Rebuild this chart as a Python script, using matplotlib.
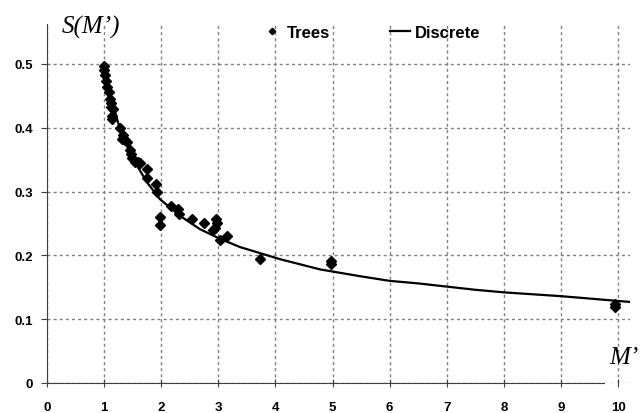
import matplotlib
matplotlib.use("Agg")
import matplotlib.pyplot as plt

# ── DATA ──────────────────────────────────────────────────────────────────────
tree_m = [1.00, 1.00, 1.02, 1.035, 1.06, 1.09, 1.10, 1.12, 1.13, 1.16, 1.15, 1.15,
          1.29, 1.34, 1.31, 1.37, 1.40, 1.45, 1.48, 1.50, 1.54, 1.60, 1.64,
          1.76, 1.75, 1.92, 1.93, 1.99, 1.99, 2.18, 2.30, 2.32, 2.55, 2.75,
          2.97, 2.98, 2.95, 2.91, 3.03, 3.16, 3.73, 4.98, 4.98, 9.95, 9.95]
tree_s = [0.497, 0.490, 0.482, 0.473, 0.463, 0.456, 0.445, 0.438, 0.433, 0.429, 0.419, 0.414,
          0.400, 0.388, 0.383, 0.381, 0.377, 0.365, 0.358, 0.352, 0.346, 0.347, 0.345,
          0.335, 0.321, 0.311, 0.300, 0.260, 0.247, 0.278, 0.272, 0.265, 0.257, 0.250,
          0.257, 0.251, 0.243, 0.239, 0.224, 0.230, 0.195, 0.191, 0.186, 0.124, 0.119]

disc_m = [1.00, 1.10, 1.28, 1.51, 1.75, 1.98, 2.33, 2.68, 3.03, 3.38, 4.08, 4.78,
          5.50, 6.00, 6.50, 7.00, 7.50, 8.00, 9.00, 10.20]
disc_s = [0.500, 0.455, 0.398, 0.351, 0.315, 0.288, 0.262, 0.241, 0.226, 0.213, 0.194, 0.178,
          0.167, 0.160, 0.156, 0.151, 0.146, 0.142, 0.136, 0.127]

x_ticks = list(range(0, 11))
y_ticks = [0, 0.1, 0.2, 0.3, 0.4, 0.5]
y_labels = ['0', '0.1', '0.2', '0.3', '0.4', '0.5']

# ── FIGURE ────────────────────────────────────────────────────────────────────
fig = plt.figure(figsize=(6.4, 4.14), dpi=100)
ax = fig.add_axes([0.073, 0.0725, 0.911, 0.8675])

ax.plot(disc_m, disc_s, color='black', linewidth=1.6, label='Discrete', zorder=3)
ax.plot(tree_m, tree_s, linestyle='none', marker='D', markersize=5.5,
        color='black', label='Trees', zorder=4)

ax.set_xlim(0, 10.2)
ax.set_ylim(0, 0.5627)

ax.set_xticks(x_ticks)
ax.set_yticks(y_ticks)
ax.set_yticklabels(y_labels)

for lab in ax.get_xticklabels() + ax.get_yticklabels():
    lab.set_fontfamily('Liberation Sans')
    lab.set_fontweight('bold')
    lab.set_fontsize(9.5)

ax.tick_params(axis='x', direction='inout', length=6, pad=10, color='#404040')
ax.tick_params(axis='y', direction='out', length=4, pad=6, color='#404040')

ax.grid(True, color='#808080', linestyle=(0, (2.2, 2.2)), linewidth=1.0, zorder=0)
ax.set_axisbelow(True)

for side in ('top', 'right'):
    ax.spines[side].set_visible(False)
ax.spines['left'].set_color('#404040')
ax.spines['bottom'].set_color('#404040')
ax.spines['bottom'].set_bounds(0, 9.75)

# legend: diamond first, then line
handles, labels = ax.get_legend_handles_labels()
leg = ax.legend(handles[::-1], labels[::-1], loc='center', bbox_to_anchor=(0.556, 0.975),
                ncol=2, frameon=False, columnspacing=3.6, handlelength=1.2,
                handletextpad=0.3, markerscale=0.6,
                prop={'family': 'Liberation Sans', 'weight': 'bold', 'size': 12})

fig.text(0.142, 0.933, 'S(M\u2019)', family='Liberation Serif', style='italic',
         fontsize=18, ha='center', va='center')
fig.text(0.975, 0.135, 'M\u2019', family='Liberation Serif', style='italic',
         fontsize=18, ha='center', va='center')

fig.savefig('out.png', dpi=100)
